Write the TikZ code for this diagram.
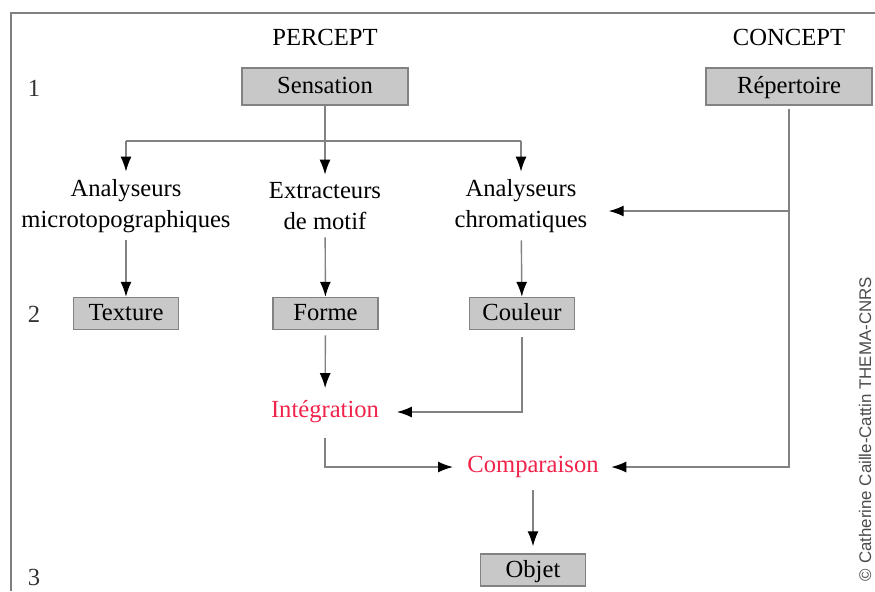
\documentclass[tikz,border=0pt]{standalone}
\usepackage{fontspec}
\setmainfont{Liberation Serif}
\newfontfamily\copyfont{Liberation Sans}
\usetikzlibrary{arrows.meta, positioning}
\definecolor{boxgray}{RGB}{200,200,200}
\definecolor{edgegray}{RGB}{130,130,130}
\definecolor{stepred}{RGB}{240,35,75}

\begin{document}
\begin{tikzpicture}[
    % GLOBAL CFG
    font=\fontsize{14}{18}\selectfont,
    >={Latex[black, length=3mm, width=2.2mm]},
    % Styles
    stage/.style={% grey boxes
        rectangle,
        draw=edgegray,
        line width=0.8pt,
        fill=boxgray,
        minimum height=0.64cm,
        minimum width=2.1cm,
        text height=0.98em,
        text depth=0.18em,
        inner sep=2pt,
        },
    bigstage/.style={% top boxes
        stage,
        minimum height=0.74cm,
        minimum width=3.32cm,
        },
    analyser/.style={% two line texts
        align=center,
        inner sep=4pt,
        },
    process/.style={% red steps
        text=stepred,
        inner sep=4pt,
        },
    level/.style={% numbers on the left
        text=black!80,
        },
    Arrow/.style={% connectors
        draw=edgegray,
        line width=0.8pt,
        },
    ]

%Bounding box and frame
    \useasboundingbox (0,0) rectangle (17.5,-11.82);
    \draw [gray, line width=1.4pt] (0.22,-11.82) -- (0.22,-0.26) -- (17.5,-0.26);

    % Titles and levels
    \node (percept) at (6.5,-0.74) {PERCEPT};
    \node (concept) at (15.78,-0.74) {CONCEPT};
    \node [level] (lvl1) at (0.68,-1.76) {1};
    \node [level] (lvl2) at (0.68,-6.28) {2};
    \node [level] (lvl3) at (0.68,-11.54) {3};

    % Top boxes
    \node [bigstage] (sens) at (6.5,-1.73) {Sensation};
    \node [bigstage] (rep) at (15.78,-1.73) {Répertoire};

    % Analysers
    \node [analyser] (ana1) at (2.52,-4.12) {Analyseurs\\microtopographiques};
    \node [analyser] (extr) at (6.5,-4.12) {Extracteurs\\de motif};
    \node [analyser] (ana2) at (10.42,-4.12) {Analyseurs\\chromatiques};

    % Level 2 boxes
    \node [stage] (tex) at (2.52,-6.27) {Texture};
    \node [stage] (forme) at (6.51,-6.27) {Forme};
    \node [stage] (coul) at (10.44,-6.27) {Couleur};

    % Red steps and result
    \node [process] (integ) at (6.5,-8.24) {Intégration};
    \node [process] (comp) at (10.66,-9.34) {Comparaison};
    \node [stage] (objet) at (10.66,-11.4) {Objet};

    % Copyright
    \node [font=\copyfont\fontsize{9.6}{11}\selectfont, text=black!70, rotate=90, inner sep=1pt] (copy) at (17.3,-8.58) {© Catherine Caille-Cattin THEMA-CNRS};

% Connecting all
    \coordinate (branch) at (6.5,-2.82);
    \draw [Arrow] (sens) -- (branch);
    \draw [Arrow] (branch -| ana1) -- (branch -| ana2);
    \draw [->, Arrow] (branch -| ana1) -- (ana1);
    \draw [->, Arrow] (branch) -- (extr);
    \draw [->, Arrow] (branch -| ana2) -- (ana2);

    \draw [->, Arrow] (ana1) -- (tex);
    \draw [->, Arrow] (extr) -- (forme);
    \draw [->, Arrow] (ana2) -- (coul);

    \draw [->, Arrow, shorten <=3pt, shorten >=3pt] (forme) -- (integ);
    \draw [->, Arrow, shorten <=4pt, shorten >=6pt] (coul) |- (integ);
    \draw [->, Arrow, shorten <=4pt, shorten >=4pt] (integ) |- (comp);

    % Concept side
    \coordinate (repbranch) at ([yshift=-0.1cm]rep |- ana2);
    \draw [->, Arrow, shorten <=2pt, shorten >=3pt] (rep) |- (comp);
    \draw [->, Arrow, shorten >=8pt] (repbranch) -- (repbranch -| ana2.east);

    \draw [->, Arrow, shorten <=3pt, shorten >=4pt] (comp) -- (objet);

\end{tikzpicture}
\end{document}
